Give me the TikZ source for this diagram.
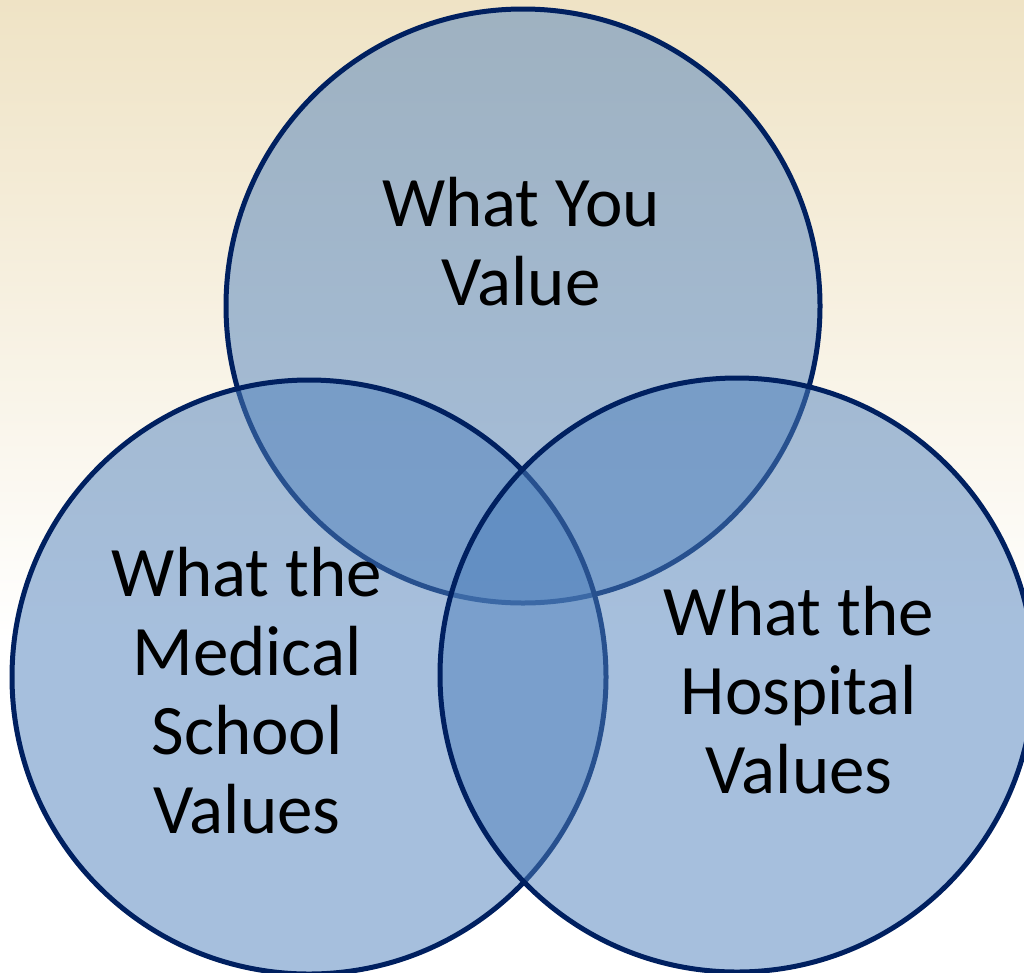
\documentclass[tikz,border=0pt]{standalone}
\usepackage{fontspec}
\setmainfont{Carlito}
\definecolor{bgtop}{HTML}{EFE3C5}
\definecolor{ringfill}{HTML}{4F81BD}
\definecolor{ringline}{HTML}{002060}
\tikzset{
  ring/.style={circle, minimum size=594pt, inner sep=0pt, fill=ringfill,
    fill opacity=0.5, draw=ringline, line width=5pt},
  label/.style={align=center, text=black, font=\fontsize{71}{79}\selectfont,
    anchor=base}
}
\begin{document}
\begin{tikzpicture}[x=1pt, y=-1pt]
  % page and soft warm backdrop
  \useasboundingbox (0,0) rectangle (1024,972);
  \fill[white] (0,0) rectangle (1024,972);
  \shade[top color=bgtop, bottom color=white] (0,0) rectangle (1024,640);

  % the three overlapping circles
  \node[ring] (you) at (523,306) {};
  \node[ring] (school) at (309,677) {};
  \node[ring] (hospital) at (737,675) {};

  % captions (positioned by the baseline of their last line)
  \node[label] (youtxt) at (521,305) {What You\\Value};
  \node[label] (schooltxt) at (247,833) {What the\\Medical\\School\\Values};
  \node[label] (hosptxt) at (799,793) {What the\\Hospital\\Values};
\end{tikzpicture}
\end{document}
